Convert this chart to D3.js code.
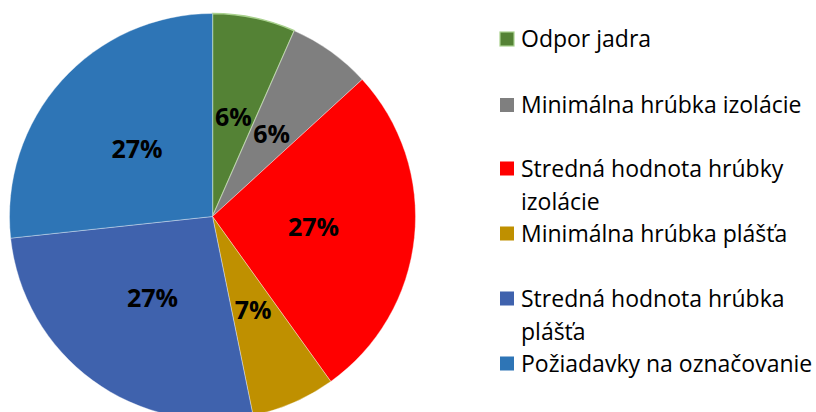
<!DOCTYPE html>
<html lang="sk">
	<head>
		<meta charset="UTF-8" />
		<title>Pie</title>
		<script src="https://d3js.org/d3.v7.min.js"></script>
		<style>
			body {
				margin: 0;
				padding: 0;
				background: #fff;
			}
			text {
				font-family: "Open Sans", "Noto Sans", sans-serif;
			}
		</style>
	</head>
	<body>
		<svg width="816" height="412"></svg>
		<script>
			const width = 816;
			const height = 412;

			const categories = [
				"Odpor jadra",
				"Minimálna hrúbka izolácie",
				"Stredná hodnota hrúbky izolácie",
				"Minimálna hrúbka plášťa",
				"Stredná hodnota hrúbka plášťa",
				"Požiadavky na označovanie",
			];
			const values = [6.6, 6.6, 26.9, 6.7, 26.5, 26.7];
			const pctLabels = ["6%", "6%", "27%", "7%", "27%", "27%"];
			const legendLines = [
				["Odpor jadra"],
				["Minimálna hrúbka izolácie"],
				["Stredná hodnota hrúbky", "izolácie"],
				["Minimálna hrúbka plášťa"],
				["Stredná hodnota hrúbka", "plášťa"],
				["Požiadavky na označovanie"],
			];
			const colors = ["#548235", "#7f7f7f", "#ff0000", "#bf9000", "#3f62ad", "#2e75b6"];

			const cx = 212.5;
			const cy = 216.5;
			const radius = 203;

			const svg = d3.select("svg");

			const pie = d3
				.pie()
				.sort(null)
				.value((d) => d);
			const arcs = pie(values);

			const arc = d3.arc().innerRadius(0).outerRadius(radius);
			const labelArc = d3.arc().innerRadius(0).outerRadius(radius);

			const g = svg.append("g").attr("transform", `translate(${cx},${cy})`);

			g.selectAll("path")
				.data(arcs)
				.enter()
				.append("path")
				.attr("d", arc)
				.style("fill", (d, i) => colors[i])
				.style("stroke", (d, i) => (i === 0 ? "#a9d18e" : "#ffffff"))
				.style("stroke-width", (d, i) => (i === 0 ? 1.5 : 0.6))
				.style("stroke-opacity", (d, i) => (i === 0 ? 1 : 0.6));

			// percent labels
			g.selectAll("text.pct")
				.data(arcs)
				.enter()
				.append("text")
				.attr("class", "pct")
				.attr("transform", (d) => `translate(${labelArc.centroid(d)})`)
				.attr("text-anchor", "middle")
				.attr("dy", "0.36em")
				.style("font-size", "25px")
				.style("font-weight", "bold")
				.style("fill", "#000")
				.text((d, i) => pctLabels[i]);

			// legend
			const legendY = [39, 105, 168.5, 233.5, 298.5, 363.5];
			const legend = svg
				.append("g")
				.selectAll("g")
				.data(categories)
				.enter()
				.append("g")
				.attr("transform", (d, i) => `translate(500,${legendY[i]})`);

			legend
				.append("rect")
				.attr("x", 0)
				.attr("y", -7)
				.attr("width", 14)
				.attr("height", 14)
				.style("fill", (d, i) => colors[i])
				.style("stroke", (d, i) => (i === 0 ? "#a9d18e" : "none"))
				.style("stroke-width", 1.2);

			legend
				.append("text")
				.attr("x", 21)
				.attr("y", 0)
				.style("font-size", "23px")
				.style("fill", "#000")
				.each(function (d, i) {
					const t = d3.select(this);
					legendLines[i].forEach((line, j) => {
						t.append("tspan")
							.attr("x", 21)
							.attr("y", j * 33)
							.attr("dy", "0.35em")
							.text(line);
					});
				});
		</script>
	</body>
</html>
